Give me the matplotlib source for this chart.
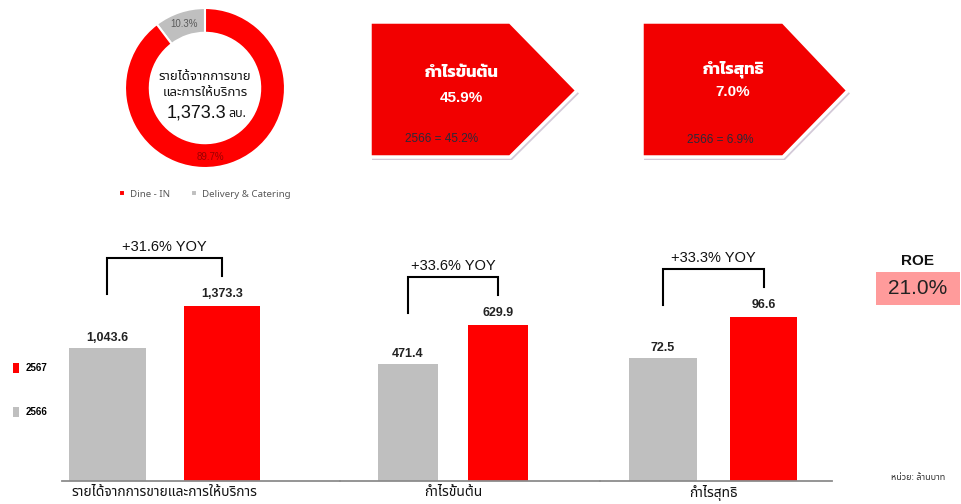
import matplotlib
matplotlib.use("Agg")
import matplotlib.pyplot as plt
from matplotlib.patches import Polygon, Rectangle

plt.rcParams['font.family'] = ['Liberation Sans', 'Noto Sans Thai']

# ---- data ----
years = ['2566', '2567']
mix_labels = ['Delivery & Catering', 'Dine - IN']
mix_share = [10.3, 89.7]
revenue_total = '1,373.3'

groups = ['รายได้จากการขายและการให้บริการ', 'กำไรขั้นต้น', 'กำไรสุทธิ']
val_2566 = [1043.6, 471.4, 72.5]
val_2567 = [1373.3, 629.9, 96.6]
val_text_2566 = ['1,043.6', '471.4', '72.5']
val_text_2567 = ['1,373.3', '629.9', '96.6']
yoy = ['+31.6% YOY', '+33.6% YOY', '+33.3% YOY']

margin_titles = ['กำไรขั้นต้น', 'กำไรสุทธิ']
margin_now = ['45.9%', '7.0%']
margin_prev = ['2566 = 45.2%', '2566 = 6.9%']
roe = '21.0%'

RED = '#FF0000'
GREY = '#BFBFBF'
W, H = 962, 504

fig = plt.figure(figsize=(W / 100, H / 100), dpi=100)

# background layer in pixel units for the arrow boxes and side notes
bg = fig.add_axes([0, 0, 1, 1])
bg.set_xlim(0, W)
bg.set_ylim(H, 0)
bg.axis('off')

boxes = [(370, 510, 577, 22, 157), (642, 783, 848, 22, 157)]
for i, (x0, x1, xp, y0, y1) in enumerate(boxes):
    ym = (y0 + y1) / 2 + 1
    pts = [(x0, y0), (x1, y0), (xp, ym), (x1, y1), (x0, y1)]
    shadow = [(x + 2, y + 3) for x, y in pts]
    bg.add_patch(Polygon(shadow, closed=True, fc='#b7a6bf', ec='none', alpha=0.6))
    bg.add_patch(Polygon(pts, closed=True, fc='#F20000', ec='white', lw=2.5))
    cx = (x0 + xp) / 2 - 12
    bg.text(cx, 73 if i == 0 else 69, margin_titles[i], ha='center', va='center',
            color='white', fontsize=12, family='Kanit', fontweight='bold')
    bg.text(cx, 98 if i == 0 else 92, margin_now[i], ha='center', va='center',
            color='white', fontsize=11, fontweight='bold')
    bg.text(x0 + 72 if i == 0 else x0 + 78, 140 if i == 1 else 139, margin_prev[i],
            ha='center', va='center', color='#2a2a3a', fontsize=8.5)

# ROE
bg.text(918, 261, 'ROE', ha='center', va='center', fontsize=11, fontweight='bold', color='#111')
bg.add_patch(Rectangle((876, 272), 84, 33, fc='#FF9B9B', ec='none'))
bg.text(918, 289, roe, ha='center', va='center', fontsize=15, color='#222')
bg.text(918, 477, 'หน่วย: ล้านบาท', ha='center', va='center', fontsize=6.5,
        family='Noto Sans Thai', color='#333')

# ---- donut ----
cx, cy, r = 205, 88, 80
pax = fig.add_axes([(cx - r) / W, 1 - (cy + r) / H, 2 * r / W, 2 * r / H])
wedges, _, pct = pax.pie(mix_share, colors=[GREY, RED], startangle=90, counterclock=True,
                         autopct='%.1f%%', pctdistance=0.84,
                         wedgeprops=dict(width=0.31, edgecolor='white', linewidth=1.5),
                         textprops=dict(fontsize=7))
pax.set_xlim(-1.0, 1.0)
pax.set_ylim(-1.0, 1.0)
pct[0].set_color('#5a5a5a')
pct[1].set_color('#9a0000')
pct[1].set_position((0.07, -0.86))
pax.text(0, 0.15, 'รายได้จากการขาย', ha='center', va='center',
         fontsize=9.5, family='Noto Sans Thai', color='#111')
pax.text(0, -0.05, 'และการให้บริการ', ha='center', va='center',
         fontsize=9.5, family='Noto Sans Thai', color='#111')
pax.text(0.26, -0.31, revenue_total, ha='right', va='center', fontsize=13, color='#111')
pax.text(0.29, -0.32, 'ลบ.', ha='left', va='center', fontsize=9, family='Noto Sans Thai', color='#111')
pax.legend(wedges[::-1], mix_labels[::-1], loc='upper center', bbox_to_anchor=(0.5, -0.08),
           ncol=2, frameon=False, labelcolor='#595959', handlelength=0.6,
           handleheight=0.6, handletextpad=0.5, columnspacing=2.2, prop=dict(family='Noto Sans', size=7))

# ---- bars: one axes per metric ----
# pixel layout: left, right, centre of first bar, bar spacing, height of 2567 bar
layout = [(62, 340, 107.5, 114.5, 175), (340, 600, 408, 90, 156), (600, 832, 663, 100.5, 164)]
base, top = 481, 230
for i, (l, rgt, c0, s, hred) in enumerate(layout):
    ax = fig.add_axes([l / W, 1 - base / H, (rgt - l) / W, (base - top) / H])
    ymax = val_2567[i] * (base - top) / hred
    ax.set_ylim(0, ymax)
    ax.set_xlim((l - c0) / s, (rgt - c0) / s)
    b1 = ax.bar([0], [val_2566[i]], width=0.67, color=GREY, label=years[0])
    b2 = ax.bar([1], [val_2567[i]], width=0.67, color=RED, label=years[1])
    ax.bar_label(b1, [val_text_2566[i]], padding=3, fontsize=9, fontweight='bold', color='#222')
    ax.bar_label(b2, [val_text_2567[i]], padding=4, fontsize=9, fontweight='bold', color='#222')
    for sp in ['top', 'left', 'right']:
        ax.spines[sp].set_visible(False)
    ax.spines['bottom'].set_color('#8c8c8c')
    ax.spines['bottom'].set_linewidth(1.3)
    ax.set_yticks([])
    ax.set_xticks([0.5])
    ax.set_xticklabels([groups[i]], family='Noto Sans Thai', fontsize=10, color='#111')
    ax.tick_params(axis='x', length=0, pad=3)
    ax.patch.set_alpha(0)
    # YOY bracket, offsets in pixels above the 2567 bar
    k = ymax / (base - top)
    ytop = val_2567[i] + 48 * k
    ax.plot([0, 0, 1, 1], [val_2567[i] + 12 * k, ytop, ytop, val_2567[i] + 30 * k],
            color='black', lw=1.5, solid_joinstyle='miter')
    ax.text(0.5, ytop + 4 * k, yoy[i], ha='center', va='bottom', fontsize=10.5, color='#111')
    if i == 0:
        handles = [b2, b1]

fig.legend(handles, [years[1], years[0]], loc='upper left', bbox_to_anchor=(0.004, 1 - 354 / H),
           frameon=False, handlelength=0.65, handleheight=1.2, handletextpad=0.7,
           labelspacing=3.5, prop=dict(size=7, weight='bold'))

fig.savefig('out.png', dpi=100)
